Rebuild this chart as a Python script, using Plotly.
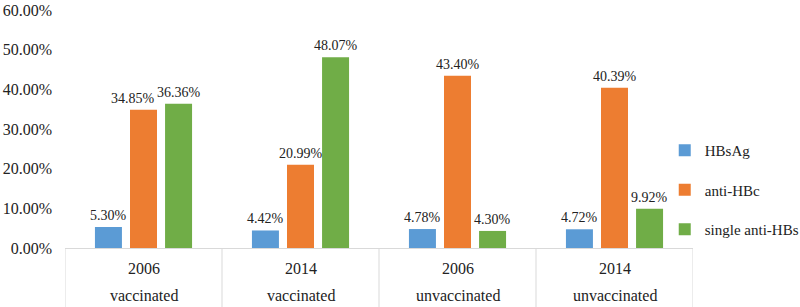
import plotly.graph_objects as go

years = ["2006", "2014", "2006", "2014"]
groups = ["vaccinated", "vaccinated", "unvaccinated", "unvaccinated"]
series_names = ["HBsAg", "anti-HBc", "single anti-HBs"]
hbsag = [5.30, 4.42, 4.78, 4.72]
anti_hbc = [34.85, 20.99, 43.40, 40.39]
single_anti_hbs = [36.36, 48.07, 4.30, 9.92]
colors = ["#5b9bd5", "#ed7d31", "#70ad47"]
ytick_vals = [0, 10, 20, 30, 40, 50, 60]
ytick_text = [f"{v:.2f}%" for v in ytick_vals]

FONT = "Liberation Serif"
W, H = 800, 307
ML, MR, MT, MB = 65, 107, 10, 59
BARGAP, GROUPGAP = 0.33, 0.23
# label nudges in px (style only)
label_nudge = {(1, 0): -11}

cats = [f"{y} {g} {i}" for i, (y, g) in enumerate(zip(years, groups))]
series = [hbsag, anti_hbc, single_anti_hbs]

fig = go.Figure()
for name, vals, col in zip(series_names, series, colors):
    fig.add_trace(go.Bar(
        x=cats, y=vals, name=name, marker_color=col, marker_line_width=0,
        legendgroup=name, hoverinfo="x+y+name",
    ))

plot_w = W - ML - MR
cat_px = plot_w / len(cats)
slot_px = cat_px * (1 - BARGAP) / len(series)

annotations = []
for k, vals in enumerate(series):
    for j, v in enumerate(vals):
        annotations.append(dict(
            x=cats[j], y=v, xref="x", yref="y", text=f"{v:.2f}%", showarrow=False,
            xanchor="center", yanchor="bottom",
            xshift=(k - (len(series) - 1) / 2) * slot_px + label_nudge.get((k, j), 0),
            yshift=2, font=dict(family=FONT, size=14, color="#222")))

shapes = []
for i in range(len(cats) + 1):
    shapes.append(dict(type="line", xref="x", yref="paper", x0=i - 0.5, x1=i - 0.5,
                       y0=0, y1=-MB / (H - MT - MB), line=dict(color="#d9d9d9", width=1)))
for i, (y, g) in enumerate(zip(years, groups)):
    annotations.append(dict(x=cats[i], y=0, xref="x", yref="paper", text=y, showarrow=False,
                            yanchor="middle", yshift=-20, font=dict(family=FONT, size=16, color="#222")))
    annotations.append(dict(x=cats[i], y=0, xref="x", yref="paper", text=g, showarrow=False,
                            yanchor="middle", yshift=-47, font=dict(family=FONT, size=16, color="#222")))

fig.update_layout(
    width=W, height=H,
    margin=dict(l=ML, r=MR, t=MT, b=MB, autoexpand=False),
    paper_bgcolor="white", plot_bgcolor="white",
    barmode="group", bargap=BARGAP, bargroupgap=GROUPGAP,
    showlegend=True,
    legend=dict(x=0.955, y=0.244, xanchor="left", yanchor="middle",
                font=dict(family=FONT, size=15, color="#222"),
                tracegroupgap=17, itemwidth=30, bgcolor="rgba(0,0,0,0)"),
    xaxis=dict(type="category", range=[-0.5, 3.5], showticklabels=False, showgrid=False,
               showline=True, linecolor="#d9d9d9", linewidth=1, ticks="", zeroline=False),
    yaxis=dict(range=[0, 60], tickvals=ytick_vals, ticktext=ytick_text,
               showgrid=False, zeroline=False, showline=False, ticks="", ticklabelstandoff=12,
               tickfont=dict(family=FONT, size=16, color="#222")),
    shapes=shapes, annotations=annotations,
)

fig.write_html("out.html", config={"displayModeBar": False},
               post_script="document.body.style.margin='0';document.body.style.overflow='hidden';")
